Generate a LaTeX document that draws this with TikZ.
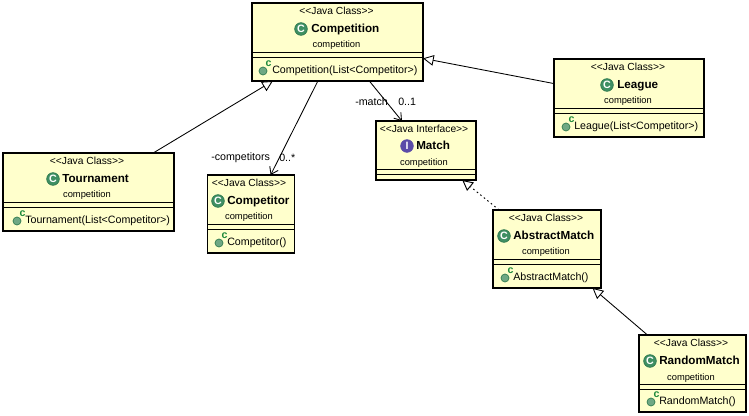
\documentclass[tikz,border=0pt]{standalone}
\usepackage{fontspec}
\setmainfont{Liberation Sans}
\usetikzlibrary{arrows.meta,calc}
\definecolor{boxfill}{HTML}{FFFFCC}
\definecolor{icongreen}{HTML}{3F8F63}
\definecolor{balldark}{HTML}{2F7A4F}
\definecolor{ballfill}{HTML}{6FA884}
\definecolor{cgreen}{HTML}{1E8A3C}
\definecolor{ifacepurple}{HTML}{5B4BA8}
\tikzset{
  classbox/.style={draw=black,line width=0.8pt,fill=boxfill,rectangle,inner sep=0pt,outer sep=0pt},
  seprule/.style={draw=black,line width=0.75pt},
  stereo/.style={font=\fontsize{7.7pt}{9pt}\selectfont,inner sep=0pt,anchor=base},
  pkg/.style={font=\fontsize{7pt}{9pt}\selectfont,inner sep=0pt,anchor=base},
  titletext/.style={font=\fontsize{8.75pt}{10pt}\selectfont\bfseries,inner sep=0pt,anchor=base west},
  ctortext/.style={font=\fontsize{8pt}{10pt}\selectfont,inner sep=0pt,anchor=base west},
  rolelabel/.style={font=\fontsize{8pt}{10pt}\selectfont,inner sep=0pt,anchor=base west},
  iconc/.style={circle,fill=icongreen,draw=balldark,line width=0.5pt,minimum size=9.5pt,inner sep=0pt,text=white,font=\fontsize{8pt}{8pt}\selectfont\bfseries},
  iconi/.style={circle,fill=ifacepurple,draw=ifacepurple,line width=0.5pt,minimum size=9.5pt,inner sep=0pt,text=white,font=\fontsize{8pt}{8pt}\selectfont\bfseries},
  ctorball/.style={circle,fill=ballfill,draw=balldark,line width=0.5pt,minimum size=6pt,inner sep=0pt},
  ctormark/.style={text=cgreen,inner sep=0pt,font=\fontsize{8pt}{8pt}\selectfont\bfseries},
  generalizes/.style={-{Triangle[open,fill=white,length=8pt,width=8pt]},line width=0.65pt},
  realizes/.style={-{Triangle[open,fill=white,length=8pt,width=8pt]},line width=0.7pt,dash pattern=on 1.2pt off 2.2pt},
  navigates/.style={-{Straight Barb[length=5pt,width=7pt]},line width=0.65pt},
}
\newcommand{\umlhead}[7]{%
  \pgfmathsetlengthmacro{\bw}{(#4-#2)*0.75pt}%
  \pgfmathsetlengthmacro{\bh}{(#5-#3)*0.75pt}%
  \node[classbox,minimum width=\bw,minimum height=\bh] (#1) at ({(#2+#4)/2},{(#3+#5)/2}) {};
  \node[stereo] (#1-st) at (#7,#3+12) {#6};
  \node[pkg] (#1-pk) at (#7,#3+45) {competition};
}
\newcommand{\umltitle}[6]{%
  \node[#3] (#1-ic) at (#5,#2+26) {#4};
  \node[titletext] (#1-ti) at (#6) {\umlname};
}
\newcommand{\umlctor}[5]{%
  \node[ctorball] (#1-ba) at (#3,#2+68) {};
  \node[ctormark] (#1-cm) at (#3+5.5,#2+61) {c};
  \node[ctortext] (#1-ct) at (#4,#2+70.5) {#5};
}
\newcommand{\umlrules}[5]{%
  \draw[seprule] (#1,#3) -- (#2,#3);
  \draw[seprule] (#1,#4) -- (#2,#4);
}
\newcommand{\llt}{<{}<}
\newcommand{\ggt}{>{}>}
\begin{document}
\begin{tikzpicture}[x=0.75pt,y=-0.75pt]
\useasboundingbox[fill=white] (0,0) rectangle (749,416);

% Competition
\umlhead{competition}{252}{3}{423}{81}{\llt Java Class\ggt}{336.5}
\def\umlname{Competition}\umltitle{competition}{3}{iconc}{C}{301}{311,33}
\umlrules{252}{423}{53}{58}{}
\umlctor{competition}{3}{263}{272}{Competition(List<Competitor>)}

% League
\umlhead{league}{554}{59}{704}{137}{\llt Java Class\ggt}{628}
\def\umlname{League}\umltitle{league}{59}{iconc}{C}{607}{617,89}
\umlrules{554}{704}{109}{114}{}
\umlctor{league}{59}{566}{574}{League(List<Competitor>)}

% Tournament
\umlhead{tournament}{3}{153}{174}{231}{\llt Java Class\ggt}{87}
\def\umlname{Tournament}\umltitle{tournament}{153}{iconc}{C}{53}{62,183}
\umlrules{3}{174}{203}{208}{}
\umlctor{tournament}{153}{17}{25}{Tournament(List<Competitor>)}

% Competitor
\umlhead{competitor}{207.5}{175}{294.5}{253}{\llt Java Class\ggt}{249}
\def\umlname{Competitor}\umltitle{competitor}{175}{iconc}{C}{218}{227,205}
\umlrules{207.5}{294.5}{225}{230}{}
\umlctor{competitor}{175}{219}{227}{Competitor()}

% Match
\umlhead{match}{376}{121}{476}{180}{\llt Java Interface\ggt}{424}
\def\umlname{Match}\umltitle{match}{120}{iconi}{I}{407}{416,150}
\umlrules{376}{476}{170}{175}{}

% AbstractMatch
\umlhead{abstractmatch}{493}{210}{601}{288}{\llt Java Class\ggt}{546}
\def\umlname{AbstractMatch}\umltitle{abstractmatch}{210}{iconc}{C}{504}{513,240}
\umlrules{493}{601}{260}{265}{}
\umlctor{abstractmatch}{210}{505}{513}{AbstractMatch()}

% RandomMatch
\umlhead{randommatch}{639}{335}{746}{412}{\llt Java Class\ggt}{691}
\def\umlname{RandomMatch}\umltitle{randommatch}{335}{iconc}{C}{650}{659,364}
\umlrules{639}{746}{384}{389}{}
\umlctor{randommatch}{334}{651}{659}{RandomMatch()}

% Connectors
\draw[generalizes] (tournament) -- (competition);
\draw[generalizes] (league) -- (competition);
\draw[navigates] (competition) -- (competitor);
\draw[navigates] (competition) -- (match);
\draw[realizes] (abstractmatch) -- (match);
\draw[generalizes] (randommatch) -- (abstractmatch);

% Role labels
\node[rolelabel] (rolecomp) at (211,161) {-competitors};
\node[rolelabel] (multcomp) at (279,161.5) {0..*};
\node[rolelabel] (rolematch) at (355,106) {-match};
\node[rolelabel] (multmatch) at (398,106) {0..1};
\end{tikzpicture}
\end{document}
